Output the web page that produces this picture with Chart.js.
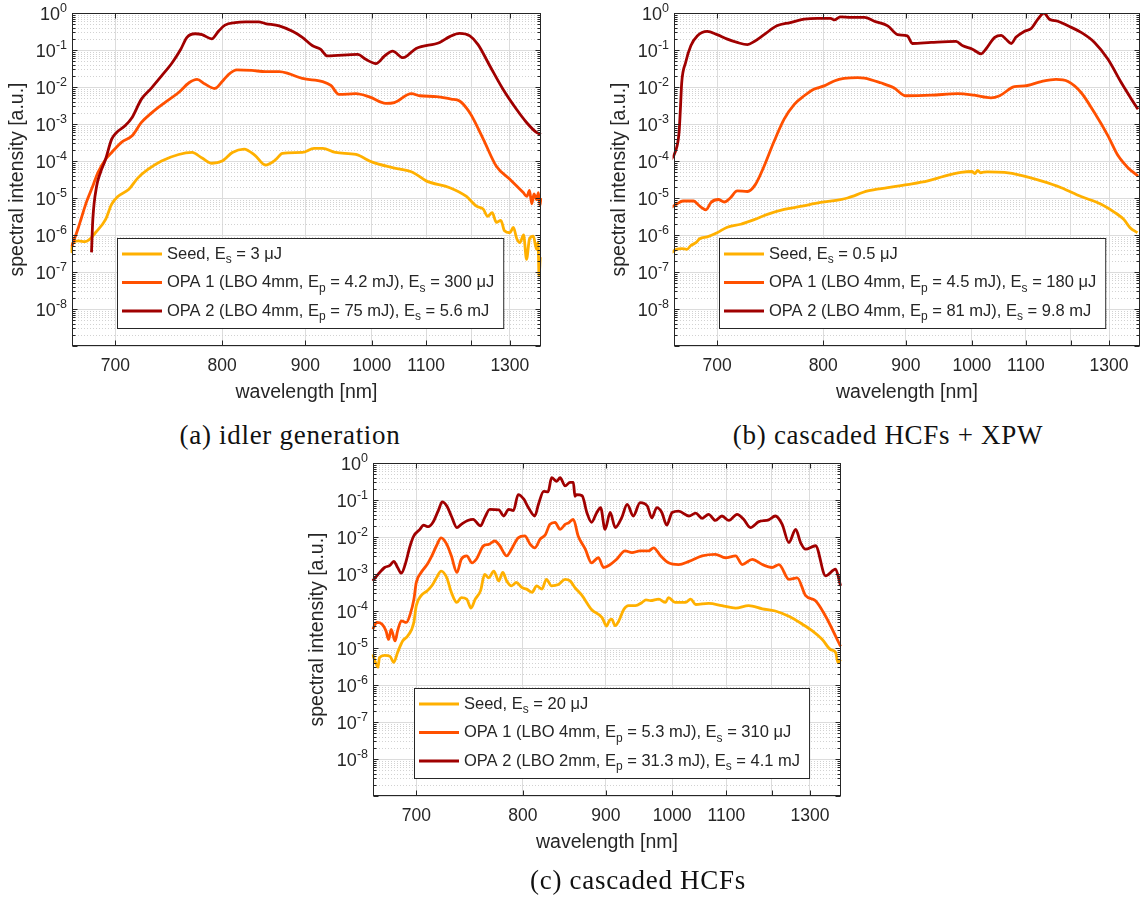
<!DOCTYPE html>
<html>
<head>
<meta charset="utf-8">
<script src="https://cdn.jsdelivr.net/npm/chart.js@4.4.1/dist/chart.umd.min.js"></script>
<style>
  body { margin: 0; background: #fff; }
  #page { position: relative; width: 1140px; height: 902px; overflow: hidden; background: #fff; }
  canvas { position: absolute; }
  .cap { position: absolute; font-family: "Liberation Serif", "Times New Roman", serif; font-size: 27px;
         letter-spacing: 0.7px; line-height: 30px; color: #111; white-space: nowrap; transform: translateX(-50%); }
</style>
</head>
<body>
<div id="page">
  <canvas id="pa" width="560" height="420" style="left:0px;top:0px"></canvas>
  <canvas id="pb" width="570" height="420" style="left:570px;top:0px"></canvas>
  <canvas id="pc" width="560" height="452" style="left:300px;top:450px"></canvas>
  <div class="cap" style="left:290px;top:420px">(a) idler generation</div>
  <div class="cap" style="left:888px;top:420px">(b) cascaded HCFs + XPW</div>
  <div class="cap" style="left:638px;top:865px">(c) cascaded HCFs</div>
</div>
<script>
// axis setup shared by the three panels
const tickNm = [700, 800, 900, 1000, 1100, 1200, 1300];
const tickText = ['700', '800', '900', '1000', '1100', '', '1300'];
const decadeExp = [0, -1, -2, -3, -4, -5, -6, -7, -8];
const nmRange = [666.2, 1394.4];
const colors = ['#FFB000', '#FF5000', '#A00000'];
const SANS = '"Liberation Sans", Arial, Helvetica, sans-serif';

// (a) idler generation
const aSeedNm = [665, 667, 671, 676, 680, 684, 692, 697, 702, 711, 719, 728, 740, 756, 769, 779, 789, 800, 811, 824, 837, 849, 862, 870, 896, 912, 924, 943, 974, 1001, 1036, 1074, 1100, 1150, 1188, 1212, 1229, 1240, 1252, 1263, 1275, 1285, 1300, 1310, 1320, 1329, 1340, 1349, 1358, 1370, 1380, 1385, 1388, 1392];
const aSeedI = [3.3e-7, 6.2e-7, 6.9e-7, 6.6e-7, 7.9e-7, 1.15e-6, 2.6e-6, 6.8e-6, 1.1e-5, 1.7e-5, 3.5e-5, 6.0e-5, 1.0e-4, 1.5e-4, 1.7e-4, 1.2e-4, 8.7e-5, 1.0e-4, 1.7e-4, 2.1e-4, 1.4e-4, 7.8e-5, 1.1e-4, 1.6e-4, 1.7e-4, 2.2e-4, 2.2e-4, 1.7e-4, 1.5e-4, 9.3e-5, 6.6e-5, 4.9e-5, 2.9e-5, 1.9e-5, 1.1e-5, 6.0e-6, 5.0e-6, 3.2e-6, 4.0e-6, 2.2e-6, 2.5e-6, 1.3e-6, 1.15e-6, 1.6e-6, 7.9e-7, 6.2e-7, 1.0e-6, 2.2e-7, 7.9e-7, 9.3e-7, 4.1e-7, 6.3e-7, 7.8e-8, 2.5e-7];
const aOpa1Nm = [666, 671, 673, 677, 682, 686, 692, 697, 705, 714, 722, 731, 743, 756, 766, 774, 782, 792, 800, 807, 816, 833, 849, 866, 878, 896, 924, 936, 948, 974, 996, 1024, 1039, 1071, 1087, 1121, 1153, 1172, 1196, 1229, 1263, 1300, 1339, 1350, 1358, 1365, 1372, 1380, 1386, 1391, 1394];
const aOpa1I = [4.9e-7, 1.6e-6, 2.7e-6, 7.6e-6, 2.1e-5, 4.9e-5, 1.1e-4, 1.7e-4, 3.2e-4, 4.8e-4, 1.1e-3, 2.0e-3, 3.8e-3, 7.1e-3, 1.3e-2, 1.6e-2, 1.2e-2, 9.1e-3, 1.4e-2, 2.2e-2, 2.9e-2, 2.8e-2, 2.6e-2, 2.6e-2, 2.3e-2, 1.7e-2, 1.4e-2, 1.1e-2, 6.3e-3, 6.6e-3, 5.4e-3, 3.6e-3, 3.8e-3, 6.6e-3, 5.8e-3, 5.5e-3, 4.7e-3, 4.2e-3, 2.0e-3, 3.9e-4, 7.2e-5, 3.2e-5, 1.4e-5, 1.1e-5, 1.6e-5, 7.0e-6, 1.3e-5, 9.0e-6, 1.4e-5, 6.3e-6, 1.0e-5];
const aOpa2Nm = [681, 682, 685, 688, 692, 697, 701, 708, 714, 722, 731, 740, 750, 758, 764, 772, 779, 789, 796, 803, 814, 826, 841, 849, 866, 883, 896, 910, 921, 931, 977, 990, 1007, 1022, 1036, 1055, 1080, 1128, 1150, 1172, 1196, 1216, 1246, 1281, 1319, 1349, 1380, 1394];
const aOpa2I = [3.4e-7, 2.6e-6, 2.1e-5, 4.9e-5, 1.1e-4, 3.9e-4, 5.9e-4, 8.9e-4, 1.5e-3, 4.7e-3, 9.5e-3, 2.0e-2, 4.6e-2, 0.105, 0.22, 0.275, 0.26, 0.2, 0.32, 0.47, 0.55, 0.575, 0.575, 0.52, 0.45, 0.32, 0.22, 0.13, 0.105, 0.069, 0.076, 0.056, 0.043, 0.069, 0.093, 0.062, 0.11, 0.16, 0.23, 0.28, 0.24, 0.14, 0.037, 8.7e-3, 2.5e-3, 1.1e-3, 5.9e-4, 5.2e-4];
const aLabels = ['Seed, E_s = 3 μJ', 'OPA 1 (LBO 4mm, E_p = 4.2 mJ), E_s = 300 μJ', 'OPA 2 (LBO 4mm, E_p = 75 mJ), E_s = 5.6 mJ'];

// (b) cascaded HCFs + XPW
const bSeedNm = [664, 668, 672, 676, 679, 683, 686, 692, 700, 708, 720, 732, 744, 760, 776, 797, 819, 827, 851, 876, 902, 931, 956, 982, 1000, 1005, 1010, 1015, 1020, 1027, 1058, 1090, 1132, 1177, 1225, 1278, 1316, 1344, 1362, 1386];
const bSeedI = [3.3e-7, 4.1e-7, 4.3e-7, 4.1e-7, 5.2e-7, 6.2e-7, 7.9e-7, 8.9e-7, 1.15e-6, 1.6e-6, 1.95e-6, 2.6e-6, 3.6e-6, 4.9e-6, 5.9e-6, 7.6e-6, 9.1e-6, 1.0e-5, 1.55e-5, 1.9e-5, 2.3e-5, 2.9e-5, 3.9e-5, 4.9e-5, 5.2e-5, 4.6e-5, 5.6e-5, 4.8e-5, 5.0e-5, 5.1e-5, 4.9e-5, 4.1e-5, 2.9e-5, 1.9e-5, 1.1e-5, 6.8e-6, 4.1e-6, 2.6e-6, 1.6e-6, 1.15e-6];
const bOpa1Nm = [664, 668, 673, 681, 686, 691, 695, 701, 706, 711, 717, 726, 733, 741, 750, 760, 770, 780, 790, 801, 812, 823, 839, 847, 867, 884, 900, 936, 977, 1004, 1033, 1049, 1077, 1097, 1132, 1165, 1193, 1225, 1260, 1297, 1326, 1356, 1388];
const bOpa1I = [5.5e-6, 6.8e-6, 8.3e-6, 8.3e-6, 6.0e-6, 4.8e-6, 7.6e-6, 9.1e-6, 7.8e-6, 1.0e-5, 1.55e-5, 1.5e-5, 2.3e-5, 7.2e-5, 3.2e-4, 1.35e-3, 3.4e-3, 5.8e-3, 8.7e-3, 1.07e-2, 1.45e-2, 1.7e-2, 1.8e-2, 1.75e-2, 1.3e-2, 9.5e-3, 5.8e-3, 6.0e-3, 6.6e-3, 6.0e-3, 5.1e-3, 5.8e-3, 1.02e-2, 1.07e-2, 1.4e-2, 1.6e-2, 1.4e-2, 7.1e-3, 2.0e-3, 4.8e-4, 1.4e-4, 6.6e-5, 3.9e-5];
const bOpa2Nm = [664, 667, 670, 671, 672, 675, 679, 684, 692, 700, 708, 717, 726, 732, 741, 753, 766, 780, 794, 808, 812, 819, 831, 847, 859, 876, 889, 902, 909, 936, 974, 985, 1001, 1016, 1024, 1040, 1052, 1061, 1071, 1080, 1097, 1111, 1125, 1138, 1150, 1169, 1193, 1225, 1260, 1297, 1336, 1367, 1388];
const bOpa2I = [1.1e-4, 1.7e-4, 5.9e-4, 2.5e-3, 1.3e-2, 4.6e-2, 0.13, 0.24, 0.32, 0.26, 0.2, 0.16, 0.14, 0.17, 0.26, 0.45, 0.55, 0.68, 0.72, 0.72, 0.65, 0.79, 0.76, 0.76, 0.6, 0.45, 0.26, 0.24, 0.15, 0.16, 0.17, 0.13, 0.105, 0.079, 0.105, 0.22, 0.25, 0.195, 0.15, 0.22, 0.32, 0.38, 0.68, 1.0, 0.68, 0.6, 0.45, 0.3, 0.16, 0.056, 1.3e-2, 4.7e-3, 2.5e-3];
const bLabels = ['Seed, E_s = 0.5 μJ', 'OPA 1 (LBO 4mm, E_p = 4.5 mJ), E_s = 180 μJ', 'OPA 2 (LBO 4mm, E_p = 81 mJ), E_s = 9.8 mJ'];

// (c) cascaded HCFs
const cSeedNm = [666, 668, 670, 671, 675, 679, 682, 685, 689, 693, 698, 700, 704, 709, 713, 717, 721, 726, 730, 735, 739, 744, 748, 752, 757, 761, 765, 770, 775, 779, 783, 788, 793, 799, 804, 810, 815, 821, 826, 832, 840, 848, 854, 860, 869, 881, 895, 901, 905, 908, 913, 918, 925, 932, 942, 952, 958, 965, 978, 989, 994, 1005, 1023, 1032, 1041, 1065, 1091, 1119, 1147, 1178, 1209, 1243, 1279, 1307, 1336, 1361, 1377, 1385, 1393];
const cSeedI = [6.8e-6, 4.1e-6, 3.0e-6, 5.5e-6, 6.3e-6, 6.0e-6, 4.1e-6, 7.6e-6, 1.55e-5, 2.1e-5, 4.9e-5, 1.4e-4, 2.6e-4, 3.5e-4, 4.8e-4, 7.9e-4, 1.2e-3, 7.9e-4, 3.2e-4, 1.7e-4, 2.3e-4, 2.1e-4, 1.2e-4, 2.1e-4, 3.5e-4, 9.8e-4, 7.9e-4, 1.2e-3, 6.5e-4, 1.1e-3, 6.5e-4, 4.8e-4, 5.9e-4, 4.3e-4, 3.9e-4, 3.2e-4, 4.8e-4, 3.9e-4, 7.2e-4, 4.8e-4, 5.2e-4, 7.2e-4, 6.5e-4, 4.3e-4, 2.6e-4, 1.1e-4, 6.6e-5, 3.9e-5, 5.6e-5, 6.0e-5, 4.0e-5, 5.4e-5, 1.1e-4, 1.4e-4, 1.4e-4, 1.7e-4, 2.0e-4, 1.9e-4, 2.1e-4, 1.7e-4, 2.3e-4, 1.7e-4, 1.7e-4, 2.1e-4, 1.5e-4, 1.6e-4, 1.4e-4, 1.2e-4, 1.4e-4, 1.15e-4, 1.0e-4, 7.2e-5, 4.4e-5, 2.9e-5, 1.7e-5, 9.1e-6, 7.6e-6, 4.0e-6, 4.9e-6];
const cOpa1Nm = [666, 669, 673, 676, 678, 680, 683, 685, 688, 692, 695, 698, 700, 704, 709, 713, 717, 721, 726, 730, 735, 739, 744, 749, 753, 760, 765, 771, 776, 783, 788, 795, 802, 808, 813, 819, 825, 830, 836, 842, 848, 852, 858, 864, 873, 881, 890, 897, 906, 915, 927, 937, 949, 962, 970, 981, 994, 1011, 1029, 1053, 1078, 1098, 1119, 1133, 1155, 1178, 1201, 1218, 1243, 1265, 1288, 1316, 1346, 1377, 1393];
const cOpa1I = [3.2e-5, 4.9e-5, 4.4e-5, 2.9e-5, 1.7e-5, 3.2e-5, 1.55e-5, 2.9e-5, 5.4e-5, 4.9e-5, 8.1e-5, 2.0e-4, 5.9e-4, 1.1e-3, 1.8e-3, 3.1e-3, 5.8e-3, 9.5e-3, 6.3e-3, 3.1e-3, 1.1e-3, 2.5e-3, 3.1e-3, 2.0e-3, 2.5e-3, 5.8e-3, 6.3e-3, 7.8e-3, 5.8e-3, 3.1e-3, 4.7e-3, 9.5e-3, 1.07e-2, 6.3e-3, 5.1e-3, 8.7e-3, 1.17e-2, 2.2e-2, 2.5e-2, 1.6e-2, 2.2e-2, 2.4e-2, 3.0e-2, 1.07e-2, 4.7e-3, 2.0e-3, 2.75e-3, 1.5e-3, 1.8e-3, 2.5e-3, 4.2e-3, 3.8e-3, 4.2e-3, 4.2e-3, 5.1e-3, 3.1e-3, 2.0e-3, 1.8e-3, 2.2e-3, 3.1e-3, 3.4e-3, 2.75e-3, 3.1e-3, 1.8e-3, 2.5e-3, 1.8e-3, 1.5e-3, 1.8e-3, 7.2e-4, 7.9e-4, 2.6e-4, 1.9e-4, 7.2e-5, 2.1e-5, 1.1e-5];
const cOpa2Nm = [666, 670, 675, 679, 682, 685, 688, 691, 695, 698, 703, 706, 710, 714, 719, 722, 726, 730, 735, 739, 745, 750, 757, 761, 766, 775, 780, 785, 790, 795, 801, 806, 813, 817, 823, 828, 832, 838, 842, 848, 854, 858, 860, 862, 869, 875, 881, 888, 893, 899, 906, 913, 922, 930, 939, 949, 960, 967, 975, 983, 991, 1000, 1011, 1029, 1041, 1053, 1065, 1078, 1091, 1105, 1122, 1136, 1151, 1170, 1193, 1209, 1226, 1243, 1261, 1274, 1288, 1316, 1346, 1377, 1393];
const cOpa2I = [6.5e-4, 9.8e-4, 1.5e-3, 1.7e-3, 2.2e-3, 1.5e-3, 1.05e-3, 1.8e-3, 5.8e-3, 1.07e-2, 1.6e-2, 2.1e-2, 1.9e-2, 2.5e-2, 5.6e-2, 8.9e-2, 6.9e-2, 3.7e-2, 1.8e-2, 2.2e-2, 2.8e-2, 3.0e-2, 2.0e-2, 3.3e-2, 5.6e-2, 5.4e-2, 3.7e-2, 5.6e-2, 5.2e-2, 0.14, 0.105, 0.062, 0.037, 0.076, 0.17, 0.166, 0.4, 0.32, 0.4, 0.24, 0.3, 0.3, 0.126, 0.14, 0.13, 0.046, 0.025, 0.046, 0.062, 0.016, 0.046, 0.018, 0.033, 0.076, 0.037, 0.085, 0.069, 0.033, 0.062, 0.046, 0.021, 0.046, 0.05, 0.037, 0.044, 0.032, 0.041, 0.028, 0.037, 0.028, 0.041, 0.03, 0.018, 0.026, 0.029, 0.037, 0.022, 7.1e-3, 0.016, 7.1e-3, 4.7e-3, 5.8e-3, 8.9e-4, 1.35e-3, 4.8e-4];
const cLabels = ['Seed, E_s = 20 μJ', 'OPA 1 (LBO 4mm, E_p = 5.3 mJ), E_s = 310 μJ', 'OPA 2 (LBO 2mm, E_p = 31.3 mJ), E_s = 4.1 mJ'];

// x axis is linear in frequency (1/wavelength) but labelled in nm
class WavelengthScale extends Chart.Scale {
    determineDataLimits() {
        this.min = this.options.lo;
        this.max = this.options.hi;
    }
    buildTicks() {
        return this.options.tickNm.map(v => ({ value: v }));
    }
    configure() {
        super.configure();
        this._invA = 1 / this.min;
        this._invB = 1 / this.max;
    }
    getLabelForValue(v) {
        return v + ' nm';
    }
    getPixelForValue(v) {
        return this.getPixelForDecimal((this._invA - 1 / v) / (this._invA - this._invB));
    }
    getValueForPixel(p) {
        const d = this.getDecimalForPixel(p);
        return 1 / (this._invA - d * (this._invA - this._invB));
    }
}
WavelengthScale.id = 'wavelength';
WavelengthScale.defaults = {};
Chart.register(WavelengthScale);

// text with single-char subscripts written as _x
function drawRich(ctx, str, x, y, draw) {
    const parts = str.split(/_(.)/);
    let cx = x;
    parts.forEach((p, i) => {
        if (!p) return;
        ctx.font = (i % 2 ? '12px ' : '16.5px ') + SANS;
        if (draw) ctx.fillText(p, cx, i % 2 ? y + 6 : y);
        cx += ctx.measureText(p).width;
    });
    return cx - x;
}

function line(ctx, x1, y1, x2, y2) {
    ctx.beginPath();
    ctx.moveTo(x1, y1);
    ctx.lineTo(x2, y2);
    ctx.stroke();
}

const decor = {
    id: 'decor',
    beforeDatasetsDraw(chart) {
        const { ctx, chartArea: a, scales: { y } } = chart;
        ctx.save();
        ctx.strokeStyle = '#d2d2d2';
        ctx.lineWidth = 1;
        ctx.setLineDash([1, 2]);
        for (let e = -9; e < 0; e++) {
            for (let k = 2; k <= 9; k++) {
                const py = Math.round(y.getPixelForValue(k * Math.pow(10, e))) + 0.5;
                line(ctx, a.left, py, a.right, py);
            }
        }
        ctx.restore();
    },
    afterDatasetsDraw(chart, args, opts) {
        const { ctx, chartArea: a, scales: { x, y } } = chart;
        ctx.save();
        ctx.setLineDash([]);
        ctx.strokeStyle = '#262626';
        ctx.lineWidth = 1;
        const L = Math.round(a.left) + 0.5, R = Math.round(a.right) - 0.5;
        const T = Math.round(a.top) + 0.5, B = Math.round(a.bottom) - 0.5;

        // legend
        const lx = opts.legendX, ly = 238;
        const ds = chart.data.datasets;
        const widths = ds.map(d => drawRich(ctx, d.label, 0, 0, false));
        const w = 50 + Math.max(...widths) + 9;
        ctx.fillStyle = '#fff';
        ctx.fillRect(lx, ly, w, 90);
        ctx.strokeRect(lx + 0.5, ly + 0.5, w, 90);
        ds.forEach((d, i) => {
            const ry = ly + 16 + i * 28.5;
            ctx.strokeStyle = d.borderColor;
            ctx.lineWidth = 2.8;
            line(ctx, lx + 5, ry, lx + 45, ry);
            ctx.fillStyle = '#262626';
            ctx.textBaseline = 'middle';
            ctx.textAlign = 'left';
            drawRich(ctx, d.label, lx + 50, ry, true);
        });

        // box and inward ticks
        ctx.strokeStyle = '#262626';
        ctx.lineWidth = 1;
        ctx.strokeRect(L, T, R - L, B - T);
        tickNm.forEach(v => {
            const px = Math.round(x.getPixelForValue(v)) + 0.5;
            line(ctx, px, B, px, B - 5);
            line(ctx, px, T, px, T + 5);
        });
        for (let e = -9; e <= 0; e++) {
            const py = Math.round(y.getPixelForValue(Math.pow(10, e))) + 0.5;
            line(ctx, L, py, L + 5, py);
            line(ctx, R, py, R - 5, py);
            if (e < 0) {
                for (let k = 2; k <= 9; k++) {
                    const qy = Math.round(y.getPixelForValue(k * Math.pow(10, e))) + 0.5;
                    line(ctx, L, qy, L + 3, qy);
                    line(ctx, R, qy, R - 3, qy);
                }
            }
        }

        // tick labels
        ctx.fillStyle = '#262626';
        ctx.textBaseline = 'middle';
        ctx.textAlign = 'center';
        ctx.font = '17.5px ' + SANS;
        tickNm.forEach((v, i) => ctx.fillText(tickText[i], x.getPixelForValue(v), a.bottom + 20));
        ctx.textAlign = 'right';
        decadeExp.forEach(e => {
            const py = y.getPixelForValue(Math.pow(10, e));
            const sup = String(e);
            ctx.font = '12.5px ' + SANS;
            const sw = ctx.measureText(sup).width;
            ctx.fillText(sup, a.left - 5, py - 4);
            ctx.font = '18px ' + SANS;
            ctx.fillText('10', a.left - 5 - sw, py + 2.5);
        });

        // axis titles
        ctx.textAlign = 'center';
        ctx.font = '19.5px ' + SANS;
        ctx.fillText('wavelength [nm]', (a.left + a.right) / 2, a.bottom + 47);
        ctx.translate(opts.yTitleX, (a.top + a.bottom) / 2);
        ctx.rotate(-Math.PI / 2);
        ctx.fillText('spectral intensity [a.u.]', 0, 0);
        ctx.restore();
    }
};

function makePanel(id, pad, nms, vals, labels, yTitleX, legendX) {
    new Chart(document.getElementById(id), {
        type: 'line',
        data: {
            datasets: nms.map((nm, i) => ({
                label: labels[i],
                data: nm.map((v, j) => ({ x: v, y: vals[i][j] })),
                borderColor: colors[i],
                borderWidth: 2.8,
                pointRadius: 0,
                fill: false,
                order: 3 - i,
                cubicInterpolationMode: 'monotone'
            }))
        },
        options: {
            responsive: false,
            animation: false,
            events: [],
            layout: { padding: pad },
            plugins: {
                legend: { display: false },
                tooltip: { enabled: false },
                decor: { yTitleX: yTitleX, legendX: legendX }
            },
            scales: {
                x: {
                    type: 'wavelength',
                    position: 'bottom',
                    lo: nmRange[0],
                    hi: nmRange[1],
                    tickNm: tickNm,
                    ticks: { display: false },
                    grid: { color: '#dcdcdc', drawTicks: false },
                    border: { display: false }
                },
                y: {
                    type: 'logarithmic',
                    min: 1e-9,
                    max: 1,
                    afterBuildTicks: sc => {
                        sc.ticks = [-9, -8, -7, -6, -5, -4, -3, -2, -1, 0].map(e => ({ value: Math.pow(10, e) }));
                    },
                    ticks: { display: false },
                    grid: { color: '#dcdcdc', drawTicks: false },
                    border: { display: false }
                }
            }
        },
        plugins: [decor]
    });
}

makePanel('pa', { left: 72, top: 13, right: 19, bottom: 74 },
    [aSeedNm, aOpa1Nm, aOpa2Nm], [aSeedI, aOpa1I, aOpa2I], aLabels, 18, 117);
makePanel('pb', { left: 104, top: 13, right: 0, bottom: 74 },
    [bSeedNm, bOpa1Nm, bOpa2Nm], [bSeedI, bOpa1I, bOpa2I], bLabels, 50, 149);
makePanel('pc', { left: 73, top: 13, right: 19, bottom: 106 },
    [cSeedNm, cOpa1Nm, cOpa2Nm], [cSeedI, cOpa1I, cOpa2I], cLabels, 18, 114);
</script>
</body>
</html>
